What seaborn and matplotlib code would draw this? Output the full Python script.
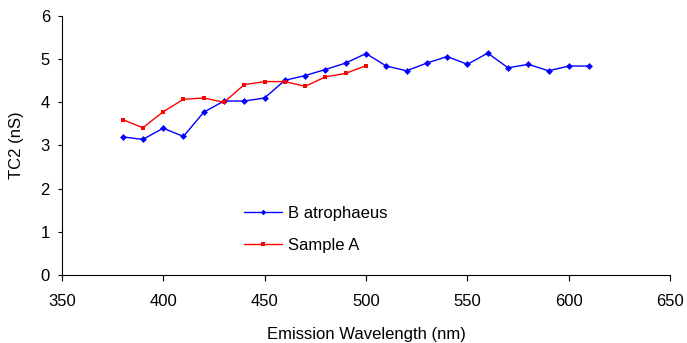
import matplotlib
matplotlib.use("Agg")
import matplotlib.pyplot as plt
import seaborn as sns
import pandas as pd

wl_b = [380, 390, 400, 410, 420, 430, 440, 450, 460, 470, 480, 490, 500, 510,
        520, 530, 540, 550, 560, 570, 580, 590, 600, 610]
tc2_b = [3.20, 3.14, 3.40, 3.21, 3.77, 4.03, 4.03, 4.10, 4.51, 4.62, 4.76, 4.91,
         5.13, 4.84, 4.73, 4.91, 5.06, 4.88, 5.14, 4.80, 4.88, 4.73, 4.84, 4.84]
wl_a = [380, 390, 400, 410, 420, 430, 440, 450, 460, 470, 480, 490, 500]
tc2_a = [3.60, 3.41, 3.78, 4.07, 4.10, 4.00, 4.41, 4.48, 4.48, 4.37, 4.59, 4.67, 4.85]

sns.set_style("white")
plt.rcParams['font.family'] = ['Liberation Sans', 'DejaVu Sans']
plt.rcParams['text.color'] = 'black'
plt.rcParams['axes.labelcolor'] = 'black'
plt.rcParams['xtick.color'] = 'black'
plt.rcParams['ytick.color'] = 'black'

df_b = pd.DataFrame({"wl": wl_b, "tc2": tc2_b})
df_a = pd.DataFrame({"wl": wl_a, "tc2": tc2_a})

fig = plt.figure(figsize=(6.87, 3.43), dpi=100)
ax = fig.add_axes([0.0898, 0.1983, 0.8859, 0.7551])

sns.lineplot(data=df_b, x="wl", y="tc2", ax=ax, color="#0000FF", marker="D",
             markersize=3.5, markeredgewidth=0, linewidth=1.0, label="B atrophaeus")
sns.lineplot(data=df_a, x="wl", y="tc2", ax=ax, color="#FF0000", marker="s",
             markersize=3.2, markeredgewidth=0, linewidth=1.0, label="Sample A")

ax.set_xlim(350, 650)
ax.set_ylim(0, 6)
ax.set_xticks(range(350, 651, 50))
ax.set_yticks(range(0, 7))
ax.set_xlabel("Emission Wavelength (nm)", fontsize=12, labelpad=13, color='black')
ax.set_ylabel("TC2 (nS)", fontsize=12, labelpad=12, color='black')
ax.tick_params(axis='x', labelsize=12, direction='out', length=4, width=0.8,
               bottom=True, color='black', labelcolor='black', pad=10)
ax.tick_params(axis='y', labelsize=12, direction='out', length=3, width=0.8,
               left=True, color='black', labelcolor='black', pad=5.5)
for s in ["top", "right"]:
    ax.spines[s].set_visible(False)
for s in ["left", "bottom"]:
    ax.spines[s].set_color("black")
    ax.spines[s].set_linewidth(0.8)

leg = ax.legend(loc="center left", bbox_to_anchor=(0.30, 0.175), frameon=False,
                fontsize=12, handlelength=2.25, handletextpad=0.35,
                labelspacing=1.0, borderpad=0.0, borderaxespad=0.0,
                markerscale=0.8)
for t in leg.get_texts():
    t.set_color('black')

fig.savefig("out.png", dpi=100)
